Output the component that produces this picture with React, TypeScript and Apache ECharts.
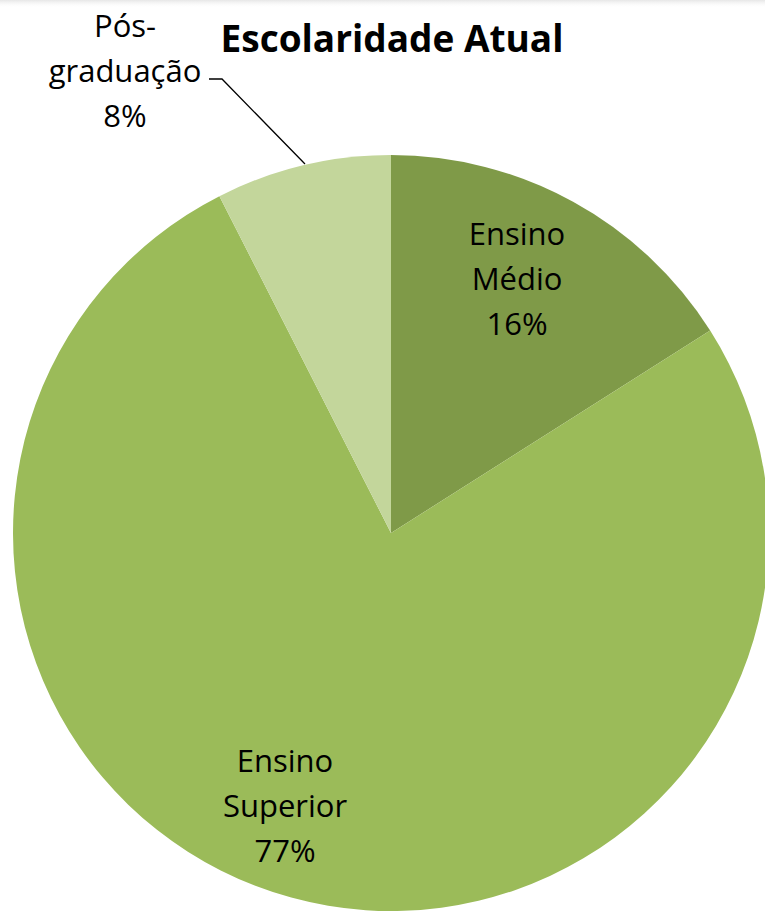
import React, { useEffect, useRef } from "react";
import * as echarts from "echarts";

const title = "Escolaridade Atual";
const categories = ["Ensino Médio", "Ensino Superior", "Pós-graduação"];
const values = [16, 76.5, 7.5];
const colors = ["#7F9A48", "#9BBB59", "#C3D69B"];
const labelTexts = ["Ensino\nMédio", "Ensino\nSuperior", "Pós-\ngraduação"];

export default function App() {
  const ref = useRef<HTMLDivElement>(null);
  useEffect(() => {
    if (!ref.current) return;
    const chart = echarts.init(ref.current, null, { renderer: "svg" });
    const font = "'Open Sans', 'Noto Sans', sans-serif";
    const labelPos = [
      [517, 278],
      [285, 805],
      [125, 70],
    ];
    chart.setOption({
      animation: false,
      backgroundColor: "#ffffff",
      title: {
        text: title,
        left: 387,
        top: 14,
        textAlign: "center",
        textStyle: {
          fontFamily: font,
          fontWeight: "bold",
          fontSize: 37,
          color: "#000000",
        },
      },
      graphic: [
        {
          type: "rect",
          shape: { x: 0, y: 0, width: 765, height: 8 },
          style: {
            fill: new echarts.graphic.LinearGradient(0, 0, 0, 1, [
              { offset: 0, color: "rgba(200,200,200,0.45)" },
              { offset: 1, color: "rgba(255,255,255,0)" },
            ]),
          },
          silent: true,
        },
      ],
      series: [
        {
          type: "pie",
          center: [391, 533],
          radius: 378,
          startAngle: 90,
          clockwise: true,
          avoidLabelOverlap: false,
          itemStyle: { borderWidth: 0 },
          emphasis: { disabled: true },
          label: {
            show: true,
            position: "outside",
            fontFamily: font,
            fontSize: 31,
            lineHeight: 45,
            color: "#000000",
            align: "center",
            formatter: (p: any) =>
              labelTexts[p.dataIndex] + "\n" + Math.round(p.percent) + "%",
          },
          labelLine: {
            show: true,
            lineStyle: { color: "#000000", width: 1.3 },
          },
          labelLayout: (p: any) => {
            const [x, y] = labelPos[p.dataIndex];
            const res: any = {
              x,
              y,
              align: "center",
              verticalAlign: "middle",
            };
            if (p.dataIndex === 2) {
              res.labelLinePoints = [
                [305, 164],
                [222, 79],
                [209, 79],
              ];
            }
            return res;
          },
          data: categories.map((name, i) => ({
            name,
            value: values[i],
            itemStyle: { color: colors[i] },
            labelLine: { show: i === 2 },
          })),
        },
      ],
    });
    return () => chart.dispose();
  }, []);
  return (
    <div
      ref={ref}
      style={{ position: "fixed", left: 0, top: 0, width: 765, height: 912 }}
    />
  );
}
